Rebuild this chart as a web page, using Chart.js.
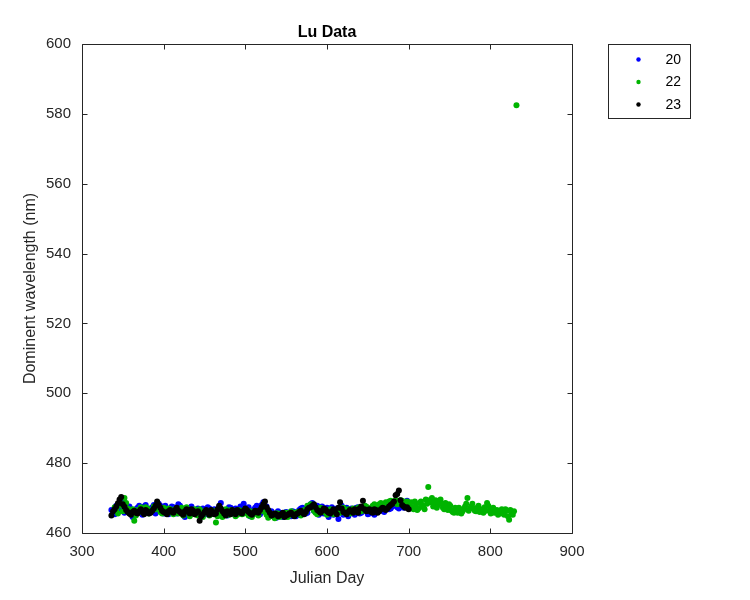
<!DOCTYPE html>
<html>
<head>
<meta charset="utf-8">
<script src="https://cdn.jsdelivr.net/npm/chart.js"></script>
<style>
  html, body { margin: 0; padding: 0; background: #ffffff; }
  #wrap { width: 750px; height: 600px; }
</style>
</head>
<body>
<div id="wrap"><canvas id="c" width="750" height="600"></canvas></div>
<script>
// ---- data (Julian day, dominant wavelength nm) ----
const seriesNames = ['20', '22', '23'];
const seriesColors = ['#0000ff', '#00b400', '#000000'];

const series20 = [
  [338,466.0],[342,467.8],[346,466.4],[350,469.0],[354,466.2],[358,467.6],[362,464.6],[366,466.8],
  [370,467.8],[374,465.2],[378,468.0],[382,466.0],[386,467.4],[390,465.6],[394,468.4],[398,466.6],
  [402,467.8],[406,465.4],[410,467.6],[414,466.2],[418,468.2],[422,467.0],[426,464.6],[430,466.8],
  [434,467.6],[438,465.6],[442,467.0],[446,465.0],[450,466.4],[454,467.4],[458,465.4],[462,466.8],
  [466,465.0],[470,468.6],[474,466.4],[478,465.0],[482,467.2],[486,465.8],[490,466.6],[494,467.6],
  [498,468.4],[502,466.2],[506,464.8],[510,466.6],[514,467.8],[518,465.4],[522,468.8],[526,467.6],
  [530,464.8],[534,465.6],[538,464.4],[542,465.8],[546,464.6],[550,466.0],[554,465.0],[558,466.2],
  [562,464.8],[566,466.6],[570,467.2],[574,465.6],[578,467.6],[582,468.6],[586,467.2],[590,465.2],
  [594,467.6],[598,466.4],[602,464.6],[606,467.4],[610,465.6],[614,464.0],[618,467.8],[622,466.2],
  [626,464.8],[630,467.0],[634,465.2],[638,467.4],[642,465.8],[646,467.8],[650,465.4],[654,467.0],
  [658,465.2],[662,466.6],[666,467.4],[670,466.0],[674,468.2],[678,467.0],[682,468.6],[686,467.4],
  [690,468.0],[694,467.2],[698,469.2]
];
const series20b = [
  [336,466.6],[340,465.4],[344,467.2],[348,467.8],[352,465.8],[356,467.4],[360,466.8],[364,465.2],
  [368,467.2],[372,466.0],[376,467.6],[380,465.8],[384,467.0],[388,468.0],[392,466.8],[396,467.8],
  [400,465.6],[404,467.0],[408,465.8],[412,467.4],[416,465.6],[420,467.8],[424,466.6],[428,465.6],
  [432,467.2],[436,465.8],[440,466.6],[444,465.6],[448,467.0],[452,465.4],[456,467.0],[460,465.8],
  [464,466.4],[468,467.6],[472,465.4],[476,466.6],[480,467.4],[484,465.6],[488,467.0],[492,465.6],
  [496,467.2],[500,466.6],[504,467.4],[508,465.8],[512,467.2],[516,466.4],[520,468.0],[524,466.8],
  [528,465.6],[532,466.2],[536,465.0],[540,466.2],[544,465.0],[548,465.8],[552,465.6],[556,464.8],
  [560,466.0],[564,465.2],[568,467.0],[572,466.0],[576,465.8],[580,468.2],[584,466.4],[588,467.8],
  [592,466.8],[596,465.6],[600,467.2],[604,466.0],[608,465.2],[612,467.0],[616,466.4],[620,465.2],
  [624,467.2],[628,465.6],[632,466.6],[636,467.2],[640,465.6],[644,467.4],[648,466.8],[652,465.6],
  [656,467.4],[660,466.4],[664,467.8],[668,466.4],[672,467.8],[676,466.8],[680,467.6],[684,468.8],
  [688,467.0],[692,468.6],[696,467.8],[700,468.4]
];

const series22 = [
  [340,467.4],[344,465.6],[348,468.4],[352,470.0],[356,467.0],[360,465.4],[364,463.5],[368,466.6],
  [372,467.4],[376,465.8],[380,467.0],[384,466.0],[388,467.6],[392,468.0],[396,466.0],[400,467.2],
  [404,465.8],[408,466.8],[412,465.4],[416,467.0],[420,466.4],[424,465.0],[428,467.4],[432,464.8],
  [436,466.2],[440,465.2],[444,466.8],[448,464.6],[452,466.0],[456,465.0],[460,466.4],[464,463.0],
  [468,466.2],[472,464.6],[476,466.8],[480,465.2],[484,466.0],[488,464.8],[492,466.6],[496,465.4],
  [500,466.8],[504,465.0],[508,464.6],[512,466.2],[516,465.0],[520,467.0],[524,466.0],[528,464.4],
  [532,465.4],[536,464.2],[540,465.6],[544,464.8],[548,465.8],[552,464.6],[556,466.2],[560,465.2],
  [564,466.0],[568,465.0],[572,466.6],[576,467.8],[580,468.2],[584,466.4],[588,465.4],[592,467.2],
  [596,466.0],[600,465.2],[604,466.8],[608,465.4],[612,466.6],[616,465.8],[620,467.2],[624,466.4],
  [628,465.6],[632,467.0],[636,466.0],[640,467.4],[644,466.6],[648,467.6],[652,466.8],[656,467.8],
  [660,467.0],[664,468.2],[668,467.6],[672,468.8],[676,469.0],[680,468.4],[684,469.4],[688,468.6],
  [692,469.2],[696,468.0],
  [700,467.4],[703,468.8],[706,466.8],[709,468.2],[712,467.0],[715,469.0],[718,467.4],[721,469.6],
  [724,473.2],[727,468.8],[730,467.6],[733,469.4],[736,468.0],[739,469.6],[742,467.2],[745,468.6],
  [748,466.6],[751,467.8],[754,466.0],[757,467.2],[760,465.8],[763,466.8],[766,466.2],[769,467.6],
  [772,470.0],[775,467.0],[778,468.4],[781,466.4],[784,467.2],[787,466.0],[790,466.8],[793,467.4],
  [796,468.6],[799,466.4],[802,466.8],[805,465.8],[808,466.6],[811,465.6],[814,466.8],[817,465.2],
  [820,466.4],[823,463.8],[826,465.4],[829,466.2],[832,582.5]
];
const series22b = [
  [342,466.6],[346,467.8],[350,466.2],[354,468.6],[358,466.4],[362,466.8],[366,465.0],[370,466.0],
  [374,466.8],[378,467.4],[382,465.6],[386,466.6],[390,466.8],[394,467.2],[398,465.6],[402,466.4],
  [406,467.0],[410,465.8],[414,466.8],[418,465.6],[422,467.2],[426,465.8],[430,466.4],[434,465.6],
  [438,466.8],[442,465.0],[446,466.2],[450,465.8],[454,466.4],[458,465.4],[462,465.8],[466,464.8],
  [470,465.8],[474,466.2],[478,465.4],[482,466.6],[486,465.6],[490,465.2],[494,466.4],[498,465.6],
  [502,465.8],[506,466.2],[510,465.4],[514,465.8],[518,466.2],[522,467.6],[526,465.2],[530,465.0],
  [534,464.8],[538,465.6],[542,464.6],[546,465.4],[550,465.8],[554,465.2],[558,465.6],[562,465.8],
  [566,465.4],[570,466.2],[574,466.0],[578,467.4],[582,467.2],[586,465.8],[590,466.4],[594,466.6],
  [598,465.8],[602,466.0],[606,465.8],[610,466.2],[614,466.6],[618,466.4],[622,465.8],[626,466.8],
  [630,466.2],[634,466.6],[638,467.2],[642,466.2],[646,467.8],[650,467.2],[654,466.6],[658,468.2],
  [662,467.4],[666,468.6],[670,468.0],[674,468.4],[678,469.2],[682,468.8],[686,468.2],[690,469.4],
  [694,468.4],[698,469.0],
  [701.5,468.4],[704.5,467.2],[707.5,469.0],[710.5,466.6],[713.5,468.6],[716.5,468.0],[719.5,466.8],
  [722.5,468.4],[725.5,469.4],[728.5,470.0],[731.5,468.4],[734.5,467.2],[737.5,469.0],[740.5,468.4],
  [743.5,466.8],[746.5,467.4],[749.5,468.2],[752.5,466.4],[755.5,465.8],[758.5,466.4],[761.5,467.2],
  [764.5,465.6],[767.5,466.8],[770.5,468.4],[773.5,466.4],[776.5,467.6],[779.5,467.0],[782.5,466.2],
  [785.5,467.8],[788.5,466.6],[791.5,465.8],[794.5,466.4],[797.5,467.8],[800.5,465.6],[803.5,467.2],
  [806.5,466.2],[809.5,465.2],[812.5,466.2],[815.5,465.6],[818.5,466.8],[821.5,464.8],[824.5,466.6],
  [827.5,465.2]
];

const series23 = [
  [336,465.0],[340,466.8],[344,468.5],[348,470.3],[352,467.5],[356,466.0],[360,465.2],[364,466.4],
  [368,465.6],[372,466.8],[376,465.4],[380,466.2],[384,465.8],[388,467.0],[392,469.0],[396,467.2],
  [400,466.0],[404,465.4],[408,466.6],[412,465.8],[416,467.2],[420,466.0],[424,465.2],[428,466.8],
  [432,465.6],[436,466.4],[440,465.8],[444,463.5],[448,465.4],[452,466.6],[456,465.2],[460,466.0],
  [464,465.6],[468,467.8],[472,466.2],[476,465.0],[480,465.8],[484,466.6],[488,465.4],[492,466.2],
  [496,465.6],[500,467.0],[504,466.0],[508,465.2],[512,466.4],[516,465.8],[520,467.4],[524,469.0],
  [528,466.6],[532,465.0],[536,465.6],[540,464.8],[544,465.4],[548,464.6],[552,465.2],[556,465.8],
  [560,464.8],[564,465.6],[568,466.4],[572,465.4],[576,466.8],[580,467.4],[584,468.2],[588,466.6],
  [592,465.8],[596,467.0],[600,466.2],[604,465.6],[608,466.8],[612,465.4],[616,468.8],[620,466.0],
  [624,465.4],[628,466.6],[632,465.8],[636,466.4],[640,467.0],[644,469.2],[648,466.2],[652,466.8],
  [656,465.8],[660,466.6],[664,466.2],[668,467.2],[672,466.6],[676,467.6],[680,468.4],[684,470.8],
  [688,472.2],[692,468.0],[696,467.2],[700,466.8]
];
const series23b = [
  [338,466.2],[342,467.6],[346,469.6],[350,468.2],[354,466.6],[358,465.6],[362,466.0],[366,465.8],
  [370,466.2],[374,466.0],[378,466.6],[382,465.6],[386,466.4],[390,467.8],[394,468.0],[398,466.4],
  [402,465.8],[406,466.2],[410,466.0],[414,466.6],[418,466.4],[422,465.6],[426,466.2],[430,466.0],
  [434,466.8],[438,465.4],[442,466.2],[446,464.8],[450,466.0],[454,465.8],[458,466.6],[462,465.4],
  [466,466.8],[470,467.0],[474,465.6],[478,466.2],[482,465.4],[486,466.0],[490,466.6],[494,465.8],
  [498,466.4],[502,466.6],[506,465.6],[510,465.8],[514,466.2],[518,466.6],[522,468.2],[526,467.4],
  [530,465.8],[534,465.2],[538,465.4],[542,465.0],[546,465.8],[550,465.0],[554,465.6],[558,465.2],
  [562,465.4],[566,466.0],[570,465.8],[574,466.0],[578,467.2],[582,467.8],[586,467.4],[590,466.2],
  [594,466.4],[598,466.8],[602,465.8],[606,466.2],[610,466.0],[614,467.2],[618,467.0],[622,465.8],
  [626,466.0],[630,466.2],[634,466.8],[638,465.8],[642,467.6],[646,466.8],[650,466.4],[654,466.0],
  [658,466.8],[662,465.8],[666,466.8],[670,467.0],[674,467.0],[678,468.0],[682,469.0],[686,471.2],
  [690,469.4],[694,467.6],[698,467.4]
];

const xTicks = [300, 400, 500, 600, 700, 800, 900];
const yTicks = [460, 480, 500, 520, 540, 560, 580, 600];
const titleText = 'Lu Data';
const xLabel = 'Julian Day';
const yLabel = 'Dominent wavelength (nm)';

// ---- chart ----
const axisColor = '#262626';
const FONT = "'Liberation Sans', Arial, Helvetica, sans-serif";
Chart.defaults.font.family = FONT;
Chart.defaults.color = axisColor;

const toXY = arr => arr.map(p => ({ x: p[0], y: p[1] }));
const allSeries = [series20.concat(series20b), series22.concat(series22b), series23.concat(series23b)];

const datasets = allSeries.map((s, i) => ({
  label: seriesNames[i],
  data: toXY(s),
  showLine: false,
  pointRadius: 3,
  pointHoverRadius: 3,
  pointBorderWidth: 0,
  backgroundColor: seriesColors[i],
  borderColor: seriesColors[i],
  order: allSeries.length - 1 - i   // later series drawn on top
}));

const boxPlugin = {
  id: 'matlabBox',
  afterDatasetsDraw(chart) {
    const { ctx, chartArea: a, scales } = chart;
    ctx.save();
    ctx.strokeStyle = axisColor;
    ctx.lineWidth = 1;
    const L = Math.round(a.left) + 0.5, R = Math.round(a.right) + 0.5;
    const T = Math.round(a.top) + 0.5, B = Math.round(a.bottom) + 0.5;
    ctx.beginPath();
    ctx.rect(L, T, R - L, B - T);
    const tl = 5;
    xTicks.forEach(v => {
      const px = Math.round(scales.x.getPixelForValue(v)) + 0.5;
      ctx.moveTo(px, B); ctx.lineTo(px, B - tl);
      ctx.moveTo(px, T); ctx.lineTo(px, T + tl);
    });
    yTicks.forEach(v => {
      const py = Math.round(scales.y.getPixelForValue(v)) + 0.5;
      ctx.moveTo(L, py); ctx.lineTo(L + tl, py);
      ctx.moveTo(R, py); ctx.lineTo(R - tl, py);
    });
    ctx.stroke();
    ctx.restore();
  }
};

const legendPlugin = {
  id: 'matlabLegend',
  afterDraw(chart) {
    const { ctx, chartArea: a } = chart;
    const bx = Math.round(a.right) + 36.5, by = Math.round(a.top) + 0.5;
    const bw = 82, bh = 74;
    ctx.save();
    ctx.fillStyle = '#ffffff';
    ctx.fillRect(bx, by, bw, bh);
    ctx.strokeStyle = axisColor;
    ctx.lineWidth = 1;
    ctx.strokeRect(bx, by, bw, bh);
    ctx.font = '14px ' + FONT;
    ctx.textBaseline = 'middle';
    ctx.textAlign = 'left';
    chart.data.datasets.forEach((ds, i) => {
      const cy = by + 15 + i * 22.5;
      ctx.fillStyle = ds.backgroundColor;
      ctx.beginPath();
      ctx.arc(bx + 30, cy, 2.2, 0, Math.PI * 2);
      ctx.fill();
      ctx.fillStyle = '#000000';
      ctx.fillText(ds.label, bx + 57, cy + 0.5);
    });
    ctx.restore();
  }
};

new Chart(document.getElementById('c'), {
  type: 'scatter',
  data: { datasets },
  options: {
    responsive: false,
    animation: false,
    devicePixelRatio: 1,
    layout: { padding: { left: 0, right: 178, top: 14.8, bottom: 0 } },
    plugins: {
      legend: { display: false },
      tooltip: { enabled: false },
      title: {
        display: true,
        text: titleText,
        fullSize: false,
        color: '#000000',
        font: { size: 16, weight: 'bold', lineHeight: 1.2 },
        padding: { top: 8, bottom: 2 }
      }
    },
    scales: {
      x: {
        type: 'linear',
        min: 300, max: 900,
        afterBuildTicks: s => { s.ticks = xTicks.map(v => ({ value: v })); },
        afterFit: s => { s.height = 67; },
        grid: { display: false, drawTicks: false },
        border: { display: false },
        ticks: { padding: 10, color: axisColor, font: { size: 15 }, maxRotation: 0, autoSkip: false },
        title: { display: true, text: xLabel, color: axisColor, font: { size: 16, lineHeight: 1.2 }, padding: { top: 0, bottom: 12 } }
      },
      y: {
        type: 'linear',
        min: 460, max: 600,
        afterBuildTicks: s => { s.ticks = yTicks.map(v => ({ value: v })); },
        afterFit: s => { s.width = 82; },
        grid: { display: false, drawTicks: false },
        border: { display: false },
        ticks: { padding: 11, color: axisColor, font: { size: 15 }, autoSkip: false },
        title: { display: true, text: yLabel, color: axisColor, font: { size: 16, lineHeight: 1.2 }, padding: { top: 21, bottom: 0 } }
      }
    }
  },
  plugins: [boxPlugin, legendPlugin]
});
</script>
</body>
</html>
